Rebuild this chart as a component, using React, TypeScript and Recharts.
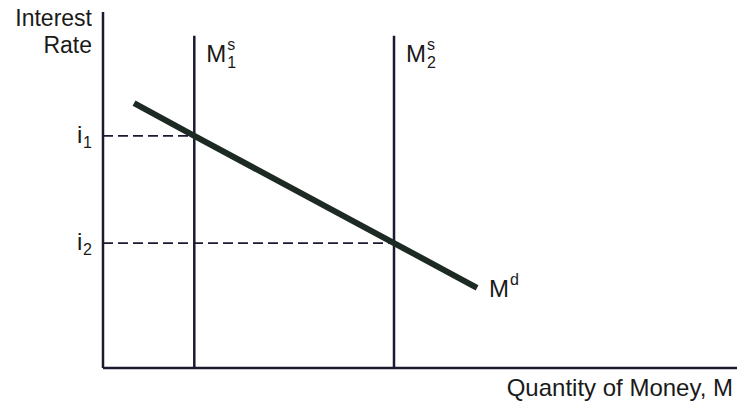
import React from 'react';
import { LineChart, Line, XAxis, YAxis, ReferenceLine, Label } from 'recharts';

// Money market: demand curve and two supply levels (arbitrary units 0-100)
const demandCurve = [
  { q: 4.9, r: 74.4 },
  { q: 14.4, r: 65.2 },
  { q: 45.9, r: 35.1 },
  { q: 59.0, r: 22.5 },
];
const supplyLevels = [
  { name: '1', q: 14.4, rate: 65.2, rateName: '1' },
  { name: '2', q: 45.9, rate: 35.1, rateName: '2' },
];
const supplyTop = 93.3;

const INK = '#1b1b30';
const CURVE = '#1d2a24';
const TEXT = '#1a1a1a';
const FONT = '"Liberation Sans", Arial, Helvetica, sans-serif';

const SupplyLabel = ({ viewBox, sub }: any) => {
  const x = viewBox.x + 12;
  const y = viewBox.y + 26;
  return (
    <g fontFamily={FONT} fill={TEXT}>
      <text x={x} y={y} fontSize={24}>M</text>
      <text x={x + 21} y={y - 12} fontSize={16}>s</text>
      <text x={x + 21} y={y + 6} fontSize={16}>{sub}</text>
    </g>
  );
};

const RateLabel = ({ viewBox, sub }: any) => {
  const x = viewBox.x - 26;
  const y = viewBox.y + 7;
  return (
    <g fontFamily={FONT} fill={TEXT}>
      <text x={x} y={y} fontSize={24}>i</text>
      <text x={x + 6} y={y + 5} fontSize={16}>{sub}</text>
    </g>
  );
};

const DemandLabel = ({ x, y, index }: any) => {
  if (index !== demandCurve.length - 1) return null;
  return (
    <g fontFamily={FONT} fill={TEXT}>
      <text x={x + 12} y={y + 9} fontSize={24}>M</text>
      <text x={x + 33} y={y - 3} fontSize={16}>d</text>
    </g>
  );
};

const YTitle = ({ viewBox }: any) => {
  const x = viewBox.x + viewBox.width - 11;
  return (
    <g fontFamily={FONT} fill={TEXT} fontSize={23} textAnchor="end">
      <text x={x} y={26}>Interest</text>
      <text x={x} y={53}>Rate</text>
    </g>
  );
};

const XTitle = ({ viewBox }: any) => (
  <text
    x={viewBox.x + viewBox.width - 4}
    y={viewBox.y + 28}
    fontFamily={FONT}
    fill={TEXT}
    fontSize={24}
    textAnchor="end"
  >
    Quantity of Money, M
  </text>
);

export default function App() {
  return (
    <div style={{ position: 'absolute', left: 0, top: 0, background: '#fff' }}>
      <LineChart width={737} height={403} margin={{ top: 12, right: 0, bottom: 0, left: 0 }}>
        <XAxis
          type="number"
          dataKey="q"
          domain={[0, 100]}
          height={35}
          tick={false}
          tickLine={false}
          axisLine={{ stroke: INK, strokeWidth: 2.5 }}
        >
          <Label content={<XTitle />} />
        </XAxis>
        <YAxis
          type="number"
          dataKey="r"
          domain={[0, 100]}
          width={103}
          tick={false}
          tickLine={false}
          axisLine={{ stroke: INK, strokeWidth: 2.5 }}
        >
          <Label content={<YTitle />} />
        </YAxis>
        {supplyLevels.map((s) => (
          <ReferenceLine
            key={'i' + s.name}
            segment={[{ x: 0, y: s.rate }, { x: s.q, y: s.rate }]}
            stroke={INK}
            strokeWidth={1.8}
            strokeDasharray="10 5"
            label={<RateLabel sub={s.rateName} />}
          />
        ))}
        {supplyLevels.map((s) => (
          <ReferenceLine
            key={'m' + s.name}
            segment={[{ x: s.q, y: 0 }, { x: s.q, y: supplyTop }]}
            stroke={INK}
            strokeWidth={2.5}
            label={<SupplyLabel sub={s.name} />}
          />
        ))}
        <Line
          data={demandCurve}
          dataKey="r"
          type="linear"
          stroke={CURVE}
          strokeWidth={6}
          dot={false}
          activeDot={false}
          label={<DemandLabel />}
          isAnimationActive={false}
        />
      </LineChart>
    </div>
  );
}
